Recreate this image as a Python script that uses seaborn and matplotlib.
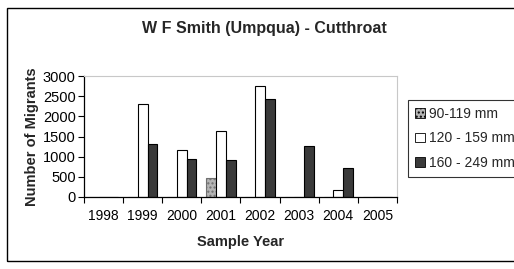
import matplotlib
matplotlib.use("Agg")
import matplotlib.pyplot as plt
import numpy as np
import pandas as pd
import seaborn as sns
from matplotlib.patches import Rectangle, Patch

# Dữ liệu
years = ["1998", "1999", "2000", "2001", "2002", "2003", "2004", "2005"]
size_classes = ["90-119 mm", "120 - 159 mm", "160 - 249 mm"]
small_fish = [0, 0, 0, 470, 0, 0, 0, 0]
medium_fish = [0, 2300, 1155, 1645, 2760, 10, 165, 0]
large_fish = [0, 1315, 950, 910, 2430, 1255, 725, 0]

df = pd.DataFrame({
    "year": years * 3,
    "size": np.repeat(size_classes, len(years)),
    "count": small_fish + medium_fish + large_fish,
})

sns.set_theme(style="white")
plt.rcParams["font.family"] = ["Liberation Sans", "DejaVu Sans"]

W, H = 514, 269
fig = plt.figure(figsize=(W / 100, H / 100), dpi=100)
fig.patch.set_facecolor("white")
ax = fig.add_axes([84 / W, 1 - 197 / H, (397 - 84) / W, (197 - 76) / H])

colors = {"90-119 mm": "#b4b4b4", "120 - 159 mm": "#ffffff", "160 - 249 mm": "#3a3a3a"}
sns.barplot(data=df, x="year", y="count", hue="size", hue_order=size_classes,
            order=years, palette=colors, width=0.75, ax=ax, legend=False,
            edgecolor="black", linewidth=0.8, saturation=1)

# hatch cho lớp nhỏ
for patch, c in zip(ax.patches, [s for s in size_classes for _ in years]):
    if c == "90-119 mm":
        patch.set_hatch("....")
        patch.set_edgecolor("#707070")

ax.set_ylim(0, 3000)
ax.set_yticks(range(0, 3001, 500))
ax.set_xlim(-0.5, len(years) - 0.5)
ax.set_xticks(np.arange(-0.5, len(years)), minor=True)
ax.tick_params(axis="x", which="major", length=0, labelsize=10, pad=9)
ax.tick_params(axis="x", which="minor", length=4, width=0.8, direction="out", color="black", bottom=True)
ax.tick_params(axis="y", length=4, width=0.8, direction="out", color="black", left=True, labelsize=10.5, pad=2)
for lbl in ax.get_yticklabels() + ax.get_xticklabels():
    lbl.set_color("black")

for side in ["left", "bottom"]:
    ax.spines[side].set_color("black")
    ax.spines[side].set_linewidth(0.9)
for side in ["top", "right"]:
    ax.spines[side].set_color("#c8c8c8")
    ax.spines[side].set_linewidth(0.8)

ax.set_xlabel("Sample Year", fontsize=10.5, fontweight="bold", labelpad=8)
ax.set_ylabel("Number of Migrants", fontsize=10.5, fontweight="bold", labelpad=3)
fig.text(264 / W, 1 - 29 / H, "W F Smith (Umpqua) - Cutthroat", ha="center", va="center",
         fontsize=11.5, fontweight="bold")

handles = [Patch(facecolor=colors[s], edgecolor="black", linewidth=0.6,
                 hatch="...." if s == "90-119 mm" else None) for s in size_classes]
leg = fig.legend(handles, size_classes, loc="upper left",
                 bbox_to_anchor=(408 / W, 1 - 100 / H), frameon=True, fontsize=10,
                 handlelength=0.7, handleheight=0.7, handletextpad=0.3,
                 labelspacing=0.75, borderpad=0.5, fancybox=False, borderaxespad=0)
leg.get_frame().set_edgecolor("black")
leg.get_frame().set_linewidth(0.8)

# khung ngoài
fig.patches.append(Rectangle((6.5 / W, 1 - 261 / H), (530 - 6.5) / W, (261 - 8) / H,
                             transform=fig.transFigure, fill=False, edgecolor="black",
                             linewidth=1.0))

fig.savefig("out.png", dpi=100)
